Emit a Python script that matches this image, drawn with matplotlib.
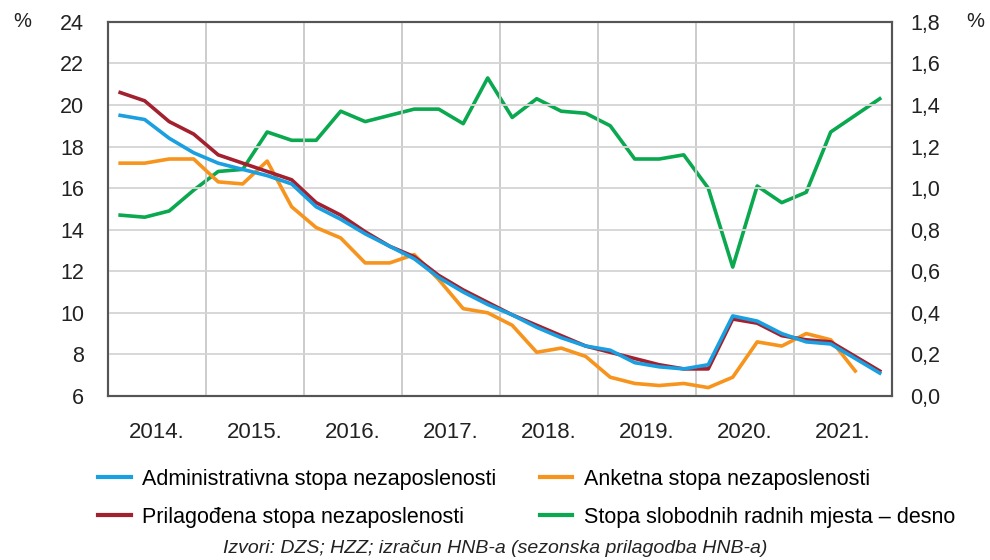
import matplotlib
matplotlib.use("Agg")
import matplotlib.pyplot as plt
import numpy as np

plt.rcParams['font.family'] = ['Liberation Sans', 'DejaVu Sans']

# quarterly data, 2014 Q1 .. 2021 Q4
years = [2014, 2015, 2016, 2017, 2018, 2019, 2020, 2021]
admin = [19.5, 19.3, 18.4, 17.7, 17.2, 16.9, 16.6, 16.2,
         15.1, 14.5, 13.8, 13.2, 12.6, 11.7, 11.0, 10.4,
         9.9, 9.3, 8.8, 8.4, 8.2, 7.6, 7.4, 7.3,
         7.5, 9.85, 9.6, 9.0, 8.6, 8.5, 7.8, 7.1]
adjusted = [20.6, 20.2, 19.2, 18.6, 17.6, 17.2, 16.8, 16.4,
            15.3, 14.7, 13.9, 13.2, 12.7, 11.8, 11.1, 10.5,
            9.9, 9.4, 8.9, 8.4, 8.1, 7.8, 7.5, 7.3,
            7.3, 9.7, 9.5, 8.9, 8.7, 8.6, 7.9, 7.2]
survey = [17.2, 17.2, 17.4, 17.4, 16.3, 16.2, 17.3, 15.1,
          14.1, 13.6, 12.4, 12.4, 12.8, 11.6, 10.2, 10.0,
          9.4, 8.1, 8.3, 7.9, 6.9, 6.6, 6.5, 6.6,
          6.4, 6.9, 8.6, 8.4, 9.0, 8.7, 7.2]
vacancy = [0.87, 0.86, 0.89, 0.99, 1.08, 1.09, 1.27, 1.23,
           1.23, 1.37, 1.32, 1.35, 1.38, 1.38, 1.31, 1.53,
           1.34, 1.43, 1.37, 1.36, 1.30, 1.14, 1.14, 1.16,
           1.00, 0.62, 1.01, 0.93, 0.98, 1.27, 1.35, 1.43]

x = 2014 + (np.arange(len(admin)) + 0.5) / 4

c_blue = '#1a9fe0'
c_red = '#a3202e'
c_orange = '#f7941d'
c_green = '#0aa84f'

fig = plt.figure(figsize=(9.9, 5.6), dpi=100)
ax = fig.add_axes([0.109, 0.293, 0.792, 0.668])
ax2 = ax.twinx()

lw = 2.6
l_green, = ax2.plot(x, vacancy, color=c_green, lw=lw, zorder=3)
l_orange, = ax.plot(x[:len(survey)], survey, color=c_orange, lw=lw, zorder=3)
l_red, = ax.plot(x, adjusted, color=c_red, lw=lw, zorder=4)
l_blue, = ax.plot(x, admin, color=c_blue, lw=lw, zorder=5)
ax.set_zorder(ax2.get_zorder() + 1)
ax.patch.set_visible(False)

ax.set_xlim(2014, 2022)
ax.set_ylim(6, 24)
ax2.set_ylim(0, 1.8)
ax.set_yticks(np.arange(6, 25, 2))
ax2.set_yticks(np.arange(0, 1.81, 0.2))
ax2.set_yticklabels([f"{v:.1f}".replace('.', ',') for v in np.arange(0, 1.81, 0.2)])

ax.set_xticks([y + 0.5 for y in years])
ax.set_xticklabels([f"{y}." for y in years])
ax.set_xticks(range(2015, 2022), minor=True)
ax.grid(True, which='minor', axis='x', color='#c8c8c8', lw=1.3)
ax.grid(True, which='major', axis='y', color='#d4d4d4', lw=1.3)

ax.tick_params(axis='x', which='both', length=0, pad=19, labelsize=16, colors='#222222')
ax.tick_params(axis='y', length=0, pad=17, labelsize=15.5, colors='#222222')
ax2.tick_params(axis='y', length=0, pad=13, labelsize=15.5, colors='#222222')

for a in (ax, ax2):
    for s in a.spines.values():
        s.set_color('#555555')
        s.set_linewidth(1.5)

fig.text(0.022, 0.962, '%', fontsize=14.5, ha='center', va='center', color='#222222')
fig.text(0.985, 0.962, '%', fontsize=14.5, ha='center', va='center', color='#222222')

fig.legend([l_blue, l_red, l_orange, l_green],
           ['Administrativna stopa nezaposlenosti', 'Prilagođena stopa nezaposlenosti',
            'Anketna stopa nezaposlenosti', 'Stopa slobodnih radnih mjesta – desno'],
           ncol=2, loc='center', bbox_to_anchor=(0.532, 0.11), frameon=False,
           fontsize=15.5, handlelength=1.5, handletextpad=0.55, columnspacing=2.0,
           labelspacing=0.78)
for line in fig.legends[0].get_lines():
    line.set_linewidth(3)

fig.text(0.5, 0.021, 'Izvori: DZS; HZZ; izračun HNB-a (sezonska prilagodba HNB-a)',
         ha='center', va='center', fontsize=14, style='italic', color='#222222')

fig.savefig('out.png', dpi=100)
